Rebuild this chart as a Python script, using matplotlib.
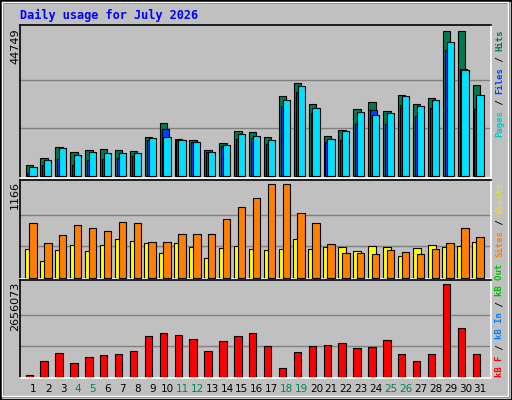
import matplotlib
matplotlib.use("Agg")
import matplotlib.pyplot as plt
from matplotlib.patches import Rectangle

days = list(range(1, 32))
weekend = [4, 5, 11, 12, 18, 19, 25, 26]

hits = [3349, 5479, 8929, 7306, 7915, 8219, 7915, 7610, 12176, 16438, 11568, 10959, 7915, 10046, 14003, 13699,
        12176, 24657, 28919, 22222, 12481, 14307, 20700, 22831, 20091, 24962, 22222, 24049, 44749, 44749, 28310]
files = [913, 3349, 5175, 3349, 4871, 5175, 5479, 6088, 10959, 14612, 10959, 10350, 7306, 9132, 11568, 11872,
         9741, 21613, 25875, 19482, 10350, 11263, 16134, 20396, 16134, 21918, 18569, 21004, 38964, 33181, 20700]
pages = [2740, 4871, 8523, 6393, 7306, 7002, 7002, 7002, 11872, 12176, 11263, 10350, 7306, 9437, 13090, 12481,
         10959, 23440, 28006, 21004, 11568, 14003, 19787, 18874, 19482, 24657, 21613, 23440, 41400, 32876, 24962]
visits = [355, 203, 342, 406, 330, 406, 482, 456, 431, 304, 431, 380, 241, 368, 393, 355,
          342, 355, 482, 355, 380, 380, 330, 393, 380, 266, 368, 406, 380, 393, 444]
sites = [684, 431, 532, 659, 621, 583, 697, 684, 444, 444, 545, 545, 545, 735, 887, 989,
         1166, 1166, 811, 684, 418, 304, 304, 292, 342, 317, 292, 355, 431, 621, 507]
kbytes = [48470, 445900, 678600, 387800, 562300, 620400, 649500, 736700, 1172900, 1260200, 1202000, 1085700,
          736700, 1027500, 1172900, 1260200, 882100, 242300, 707600, 882100, 911200, 969400, 824000, 853100,
          1056600, 649500, 445900, 649500, 2656073, 1405600, 649500]

BG = "#C0C0C0"
W, H = 512, 400
fig = plt.figure(figsize=(5.12, 4.0), dpi=100, facecolor=BG)


def px(x0, y0, x1, y1):
    return [x0 / W, 1 - y1 / H, (x1 - x0) / W, (y1 - y0) / H]


# outer frame with bevel
fig.patches.append(Rectangle((0, 0), 1, 1, transform=fig.transFigure, fill=False, ec="black", lw=2))
fig.patches.append(Rectangle((3 / W, 3 / H), 1 - 6 / W, 1 - 6 / H, transform=fig.transFigure,
                             fill=False, ec="#808080", lw=1.5))
fig.patches.append(Rectangle((2 / W, 4 / H), 1 - 6 / W, 1 - 6 / H, transform=fig.transFigure,
                             fill=False, ec="white", lw=1))


def setup(ax, top):
    ax.set_facecolor(BG)
    ax.set_xlim(0.13, 31.74)
    ax.set_ylim(-0.015 * top, 1.045 * top)
    ax.set_xticks([])
    ax.set_yticks([])
    for y in (top / 3, 2 * top / 3):
        ax.axhline(y, color="#808080", lw=1, zorder=0)
    ax.spines["left"].set_color("black")
    ax.spines["top"].set_color("black")
    ax.spines["right"].set_color("white")
    ax.spines["bottom"].set_color("white")
    for s in ax.spines.values():
        s.set_linewidth(1.2)


x = days
ax1 = fig.add_axes(px(20, 25, 491, 178))
setup(ax1, max(hits))
ax1.bar([d - 0.25 for d in x], hits, width=0.5, color="#007850", ec="black", lw=0.8, zorder=2)
ax1.bar([d - 0.13 for d in x], files, width=0.48, color="#0040FF", ec="black", lw=0.8, zorder=3)
ax1.bar([d + 0.0 for d in x], pages, width=0.48, color="#00E0FF", ec="black", lw=0.8, zorder=4)

ax2 = fig.add_axes(px(20, 180, 491, 279))
setup(ax2, max(sites))
ax2.bar([d - 0.24 for d in x], visits, width=0.55, color="#FFFF00", ec="black", lw=0.8, zorder=2)
ax2.bar([d + 0.0 for d in x], sites, width=0.5, color="#FF8000", ec="black", lw=0.8, zorder=3)

ax3 = fig.add_axes(px(20, 280, 491, 378))
setup(ax3, max(kbytes))
ax3.bar([d - 0.25 for d in x], kbytes, width=0.5, color="#FF0000", ec="black", lw=0.8, zorder=2)

for d in days:
    ax3.text(d + 0.02, -0.06, str(d), transform=ax3.get_xaxis_transform(), ha="center", va="top",
             fontsize=7.5, color="#008060" if d in weekend else "black")

fig.text(20 / W, 1 - 15 / H, "Daily usage for July 2026", color="#0000FF", fontsize=8.6,
         family="DejaVu Sans Mono", weight="bold", va="center", ha="left")

# left max labels
for ytop, label in [(28, str(max(hits))), (181, str(max(sites))), (282, str(max(kbytes)))]:
    fig.text(15 / W, 1 - ytop / H, label, rotation=90, fontsize=8, ha="center", va="top")


def side_label(ybottom, parts):
    # vertical monospace label built from coloured pieces, bottom to top
    step = 5.4
    y = ybottom
    for txt, col in parts:
        fig.text(500 / W, 1 - y / H, txt, rotation=90, color=col, fontsize=6.5,
                 family="DejaVu Sans Mono", weight="bold", ha="center", va="bottom")
        y -= step * len(txt)


side_label(137, [("Pages", "#00C8D0"), (" / ", "black"), ("Files", "#0040FF"), (" / ", "black"),
                 ("Hits", "#007850")])
side_label(257, [("Sites", "#FF8000"), (" / ", "black"), ("Visits", "#E8E800")])
side_label(377, [("kB F", "#FF0000"), (" / ", "black"), ("kB In", "#0080FF"), (" / ", "black"),
                 ("kB Out", "#00C000")])

fig.savefig("out.png", dpi=100, facecolor=BG)
